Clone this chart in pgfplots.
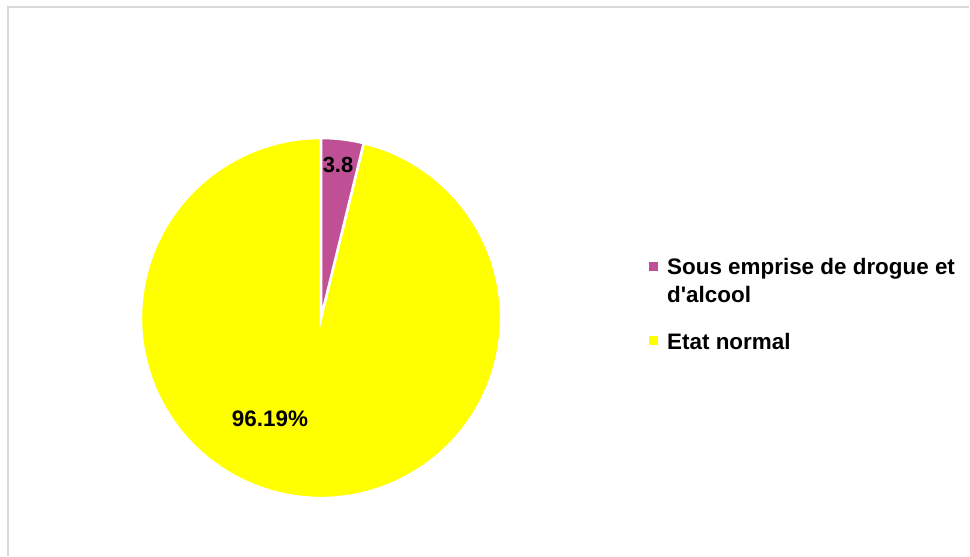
\documentclass[border=0pt]{standalone}
\usepackage{pgfplots}
\pgfplotsset{compat=1.18}
\usepackage{pgfplotstable}
\usepackage{fontspec}
\setmainfont{Liberation Sans}
\definecolor{pieP}{RGB}{192,80,150}
\definecolor{pieY}{RGB}{255,255,0}
\definecolor{frameG}{RGB}{217,217,217}
\pgfplotstableread{
label value
A 3.81
B 96.19
}\piedata
\begin{document}
\begin{tikzpicture}
\pgfplotstablegetelem{0}{value}\of\piedata \let\va\pgfplotsretval
\pgfplotstablegetelem{1}{value}\of\piedata \let\vb\pgfplotsretval
\pgfmathsetmacro{\aA}{\va*3.6}
\pgfmathsetmacro{\sA}{90-\aA}
\begin{axis}[width=970bp,height=556bp,scale only axis,
  xmin=0,xmax=970,ymin=0,ymax=556, axis lines=none, clip=false,
  ticks=none]
\path (axis cs:0,0) rectangle (axis cs:970,556);
\draw[frameG, line width=1.5bp] (axis cs:8,0) -- (axis cs:8,549) -- (axis cs:969,549);
\fill[pieY, draw=white, line width=2.5bp] (axis cs:321,238) -- ++(\sA:180bp) arc[start angle=\sA, end angle=-270, radius=180bp] -- cycle;
\fill[pieP, draw=white, line width=2.5bp] (axis cs:321,238) -- ++(90:180bp) arc[start angle=90, end angle=\sA, radius=180bp] -- cycle;
\node[font=\fontsize{22}{26}\selectfont\bfseries] at (axis cs:338,391) {3.8};
\node[font=\fontsize{22.5}{26}\selectfont\bfseries] at (axis cs:270,137) {\vb\%};
\fill[pieP] (axis cs:649,285) rectangle (axis cs:658,294);
\fill[pieY] (axis cs:649,211) rectangle (axis cs:658,220);
\node[anchor=base west, inner sep=0pt, font=\fontsize{22.5}{26}\selectfont\bfseries] at (axis cs:667,281) {Sous emprise de drogue et};
\node[anchor=base west, inner sep=0pt, font=\fontsize{22.5}{26}\selectfont\bfseries] at (axis cs:667,253) {d\textquotesingle alcool};
\node[anchor=base west, inner sep=0pt, font=\fontsize{22.5}{26}\selectfont\bfseries] at (axis cs:667,207) {Etat normal};
\end{axis}
\end{tikzpicture}
\end{document}
